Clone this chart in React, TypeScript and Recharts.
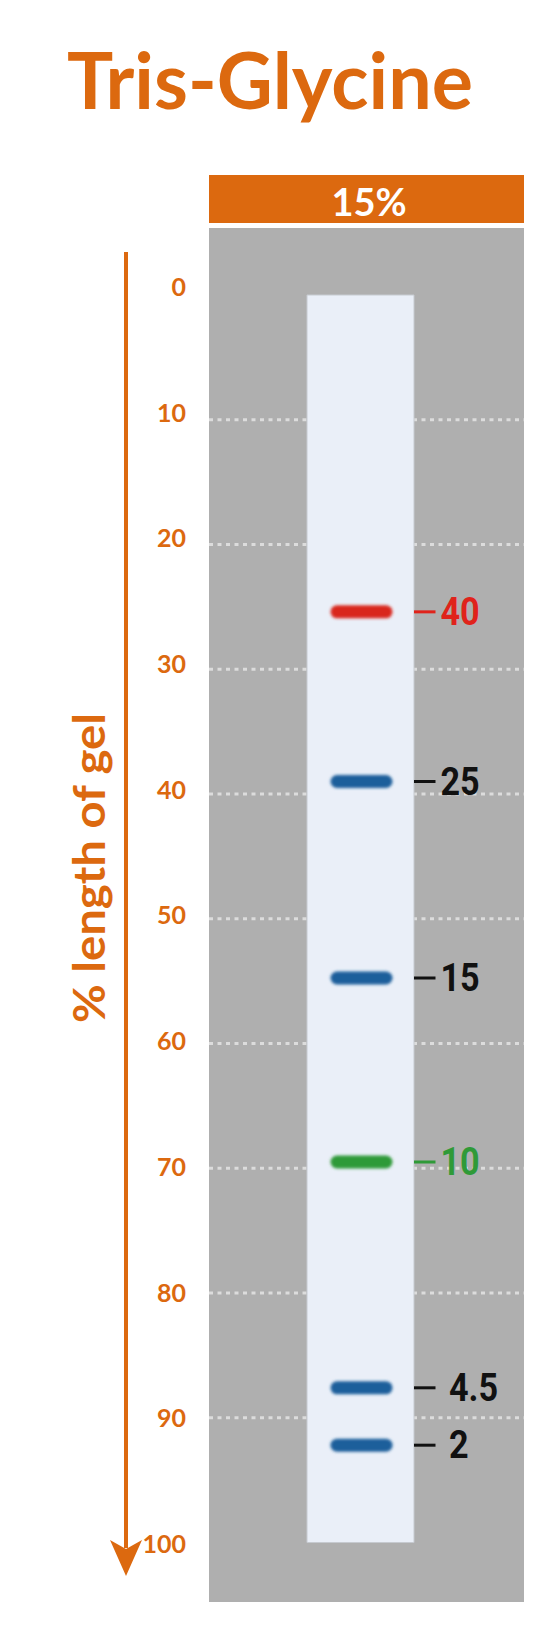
import React from 'react';
import { ComposedChart, Bar, Scatter, XAxis, YAxis, CartesianGrid } from 'recharts';

// ---- data ----
const CATEGORIES = ['15%'];
const LANE_START = [0];
const LANE_END = [100];
const BAND_POSITIONS = [25.4, 39.0, 54.75, 69.5, 87.6, 92.2];
const BAND_LABELS = ['40', '25', '15', '10', '\u00a04.5', '\u00a02'];
const BAND_COLORS = ['#d9281d', '#1c5f9b', '#1c5f9b', '#2f9a38', '#1c5f9b', '#1c5f9b'];
const BAND_LABEL_COLORS = ['#e0231b', '#111111', '#111111', '#2f9a38', '#111111', '#111111'];
const Y_TICKS = [0, 10, 20, 30, 40, 50, 60, 70, 80, 90, 100];
const GRID_VALUES = [10, 20, 30, 40, 50, 60, 70, 80, 90];
const TITLE = 'Tris-Glycine';
const Y_LABEL = '% length of gel';

const ORANGE = '#dc690f';
const W = 560;
const H = 1629;

const laneData = CATEGORIES.map((name, i) => ({ name, lane: [LANE_START[i], LANE_END[i]] }));
const bandData = BAND_POSITIONS.map((pos, i) => ({
  name: CATEGORIES[0],
  pos,
  label: BAND_LABELS[i],
  color: BAND_COLORS[i],
  labelColor: BAND_LABEL_COLORS[i],
}));

const YTick = (props: any) => {
  const { y, payload } = props;
  const v = Number(payload.value);
  return (
    <text
      x={186}
      y={y - 9 + 0.095 * v}
      textAnchor="end"
      dominantBaseline="central"
      fill={ORANGE}
      fontFamily="Lato, 'Open Sans', sans-serif"
      fontWeight={700}
      fontSize={25}
    >
      {payload.value}
    </text>
  );
};

const XTick = (props: any) => {
  const { payload } = props;
  return (
    <g>
      <rect x={209} y={175} width={315} height={48} fill={ORANGE} />
      <text
        x={369}
        y={216}
        textAnchor="middle"
        fill="#ffffff"
        fontFamily="Lato, 'Open Sans', sans-serif"
        fontWeight={700}
        fontSize={38}
      >
        {payload.value}
      </text>
    </g>
  );
};

const BandShape = (props: any) => {
  const { cx, cy, payload, index } = props;
  const fid = `bandblur-${index}`;
  return (
    <g>
      <defs>
        <filter id={fid} x="-20%" y="-100%" width="140%" height="300%">
          <feGaussianBlur stdDeviation="1.7" />
        </filter>
      </defs>
      <rect x={cx - 30} y={cy - 6.5} width={62} height={13} rx={6.5} fill={payload.color} filter={`url(#${fid})`} />
      <line x1={cx + 53.5} x2={cx + 75} y1={cy} y2={cy} stroke={payload.labelColor} strokeWidth={3} />
      <g transform={`translate(${cx + 80}, ${cy}) scale(0.9, 1)`}>
        <text
          x={0}
          y={0}
          dominantBaseline="central"
          fill={payload.labelColor}
          fontFamily="Roboto, 'DejaVu Sans', sans-serif"
          fontWeight={700}
          fontSize={38}
        >
          {payload.label}
        </text>
      </g>
    </g>
  );
};

export default function App() {
  return (
    <div style={{ position: 'absolute', left: 0, top: 0, width: W, height: H, background: '#ffffff' }}>
      <ComposedChart
        width={W}
        height={H}
        data={laneData}
        margin={{ top: 175, right: 36, bottom: 27, left: 109 }}
      >
        <CartesianGrid
          vertical={false}
          horizontalValues={GRID_VALUES}
          stroke="#dcdcdc"
          strokeWidth={3}
          strokeDasharray="4 4.5"
          fill="#afafaf"
          fillOpacity={1}
        />
        <XAxis
          dataKey="name"
          type="category"
          orientation="top"
          height={53}
          allowDuplicatedCategory={false}
          padding={{ left: 0, right: 12 }}
          axisLine={false}
          tickLine={false}
          tick={<XTick />}
        />
        <YAxis
          type="number"
          reversed
          width={100}
          domain={[-5.37, 104.77]}
          allowDataOverflow
          ticks={Y_TICKS}
          interval={0}
          axisLine={false}
          tickLine={false}
          tick={<YTick />}
        />
        <Bar
          dataKey="lane"
          barSize={107}
          fill="#eaeff8"
          stroke="#c6cad0"
          strokeWidth={1}
          isAnimationActive={false}
        />
        <Scatter data={bandData} dataKey="pos" shape={<BandShape />} isAnimationActive={false} />
      </ComposedChart>
      <svg
        width={W}
        height={H}
        style={{ position: 'absolute', left: 0, top: 0, pointerEvents: 'none' }}
      >
        <text
          x={270}
          y={109}
          textAnchor="middle"
          fill={ORANGE}
          fontFamily="Lato, 'Open Sans', sans-serif"
          fontWeight={700}
          fontSize={79}
          textLength={406}
          lengthAdjust="spacingAndGlyphs"
        >
          {TITLE}
        </text>
        <line x1={126} x2={126} y1={252} y2={1548} stroke={ORANGE} strokeWidth={4} />
        <polygon points="126,1576 110,1540 126,1549 142,1540" fill={ORANGE} />
        <text
          transform="translate(105,868) rotate(-90)"
          textAnchor="middle"
          fill={ORANGE}
          fontFamily="Lato, 'Open Sans', sans-serif"
          fontWeight={700}
          fontSize={44}
          textLength={310}
          lengthAdjust="spacingAndGlyphs"
        >
          {Y_LABEL}
        </text>
      </svg>
    </div>
  );
}
